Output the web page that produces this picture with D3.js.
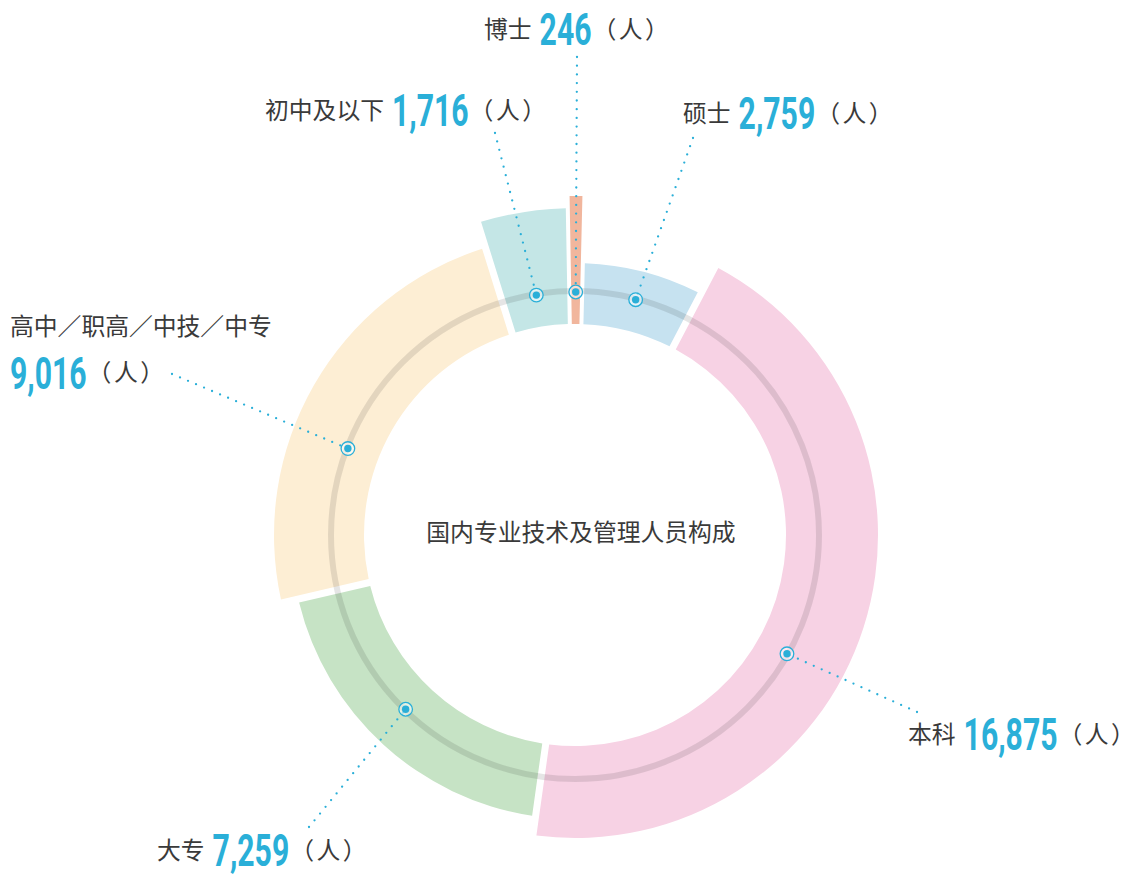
<!DOCTYPE html>
<html>
<head>
<meta charset="utf-8">
<script src="https://cdn.jsdelivr.net/npm/d3@7"></script>
<style>
  html, body { margin: 0; padding: 0; background: #fff; }
</style>
</head>
<body>
<div id="container"></div>
<script>
let w = 1134;
let h = 874;

// DATA
let categories = ["博士", "硕士", "本科", "大专", "高中／职高／中技／中专", "初中及以下"];
let counts = [246, 2759, 16875, 7259, 9016, 1716];
let unitParts = ["（", "人", "）"];
let centerTitle = "国内专业技术及管理人员构成";

// STYLE / LAYOUT
let sliceColors = ["#f1b69d", "#c6e2f0", "#f7d2e4", "#c6e3c5", "#fdeed4", "#c4e6e6"];
let sliceOuter = [339, 272, 303, 284, 301, 327];  // each ring piece sticks out differently
let gapWidth = [1, 7, 7, 7, 7, 7];               // white gap (px) each piece keeps
let markerNudge = [0, 0, 11.5, 1.7, -9, 0];       // degrees, marker offset from mid angle
let labelPos = [
  {x: 484, cy: 29, end: [577, 57]},
  {x: 683, cy: 113, end: [693, 138]},
  {x: 908, cy: 734, end: [917, 712]},
  {x: 157, cy: 850, end: [309, 827]},
  {x: 10, cy: 326, cy2: 372.5, end: [172, 374]},
  {x: 265, cy: 110, end: [495, 133]}
];

let cx = 575, cy = 535;
let innerR = 211;
let ringR = 244;
let deg = Math.PI / 180;
let blue = "#2aafd8";
let textGrey = "#3a3a3a";
let cjkFont = "'Noto Sans CJK SC', 'Noto Sans', sans-serif";
let numFont = "Roboto, 'DejaVu Sans', sans-serif";
let numSize = 45;
let numSquash = 0.67;
let cjkSize = 23.8;

let rows = categories.map(function(c, i){
  return {name: c, count: counts[i], index: i};
});

// SVG
let viz = d3.select("#container").append("svg")
    .attr("width", w)
    .attr("height", h)
    .style("display", "block")
    .style("background-color", "#ffffff");

let g = viz.append("g").attr("transform", "translate(" + cx + "," + cy + ")");

let pie = d3.pie()
    .sort(null)
    .value(function(d){ return d.count; })
    .startAngle(-1 * deg)
    .endAngle(359 * deg);

let arcs = pie(rows);
let padR = 250;
arcs.forEach(function(a, i){ a.padAngle = gapWidth[i] / padR; });

let arcMaker = d3.arc()
    .innerRadius(innerR)
    .outerRadius(function(d){ return sliceOuter[d.index]; })
    .padRadius(padR);

g.selectAll(".slice").data(arcs).enter()
  .append("path")
    .attr("class", "slice")
    .attr("d", arcMaker)
    .attr("fill", function(d, i){ return sliceColors[i]; });

// grey guide ring
g.append("circle")
    .attr("r", ringR)
    .attr("fill", "none")
    .attr("stroke", "#000")
    .attr("stroke-opacity", 0.1)
    .attr("stroke-width", 6);

// marker position on the ring
function markerPoint(d, i){
  let a = (d.startAngle + d.endAngle) / 2 + markerNudge[i] * deg;
  let r = ringR - 1;
  return [cx + r * Math.sin(a), cy - r * Math.cos(a)];
}

// dotted leader lines
viz.selectAll(".leader").data(arcs).enter()
  .append("line")
    .attr("class", "leader")
    .attr("x1", function(d, i){ return labelPos[i].end[0]; })
    .attr("y1", function(d, i){ return labelPos[i].end[1]; })
    .attr("x2", function(d, i){ return markerPoint(d, i)[0]; })
    .attr("y2", function(d, i){ return markerPoint(d, i)[1]; })
    .attr("stroke", blue)
    .attr("stroke-width", 2.3)
    .attr("stroke-linecap", "round")
    .attr("stroke-dasharray", "0 8.7");

// markers
let markers = viz.selectAll(".marker").data(arcs).enter()
  .append("g")
    .attr("class", "marker")
    .attr("transform", function(d, i){
      let p = markerPoint(d, i);
      return "translate(" + p[0] + "," + p[1] + ")";
    });
markers.append("circle")
    .attr("r", 6.8)
    .attr("fill", "#fff")
    .attr("fill-opacity", 0.55)
    .attr("stroke", blue)
    .attr("stroke-width", 1.3);
markers.append("circle")
    .attr("r", 3.7)
    .attr("fill", blue);

// centre title
viz.append("text")
    .attr("x", 581)
    .attr("y", 532.5 + 0.37 * cjkSize)
    .attr("text-anchor", "middle")
    .attr("font-family", cjkFont)
    .attr("font-size", cjkSize)
    .attr("fill", textGrey)
    .text(centerTitle);

// labels
rows.forEach(function(d, i){
  let lp = labelPos[i];
  let name = viz.append("text")
      .attr("x", lp.x)
      .attr("y", lp.cy + 0.37 * cjkSize)
      .attr("font-family", cjkFont)
      .attr("font-size", cjkSize)
      .attr("fill", textGrey)
      .text(d.name);

  let numX, numCy;
  if (lp.cy2 != undefined) {
    numX = lp.x;
    numCy = lp.cy2;
  } else {
    numX = lp.x + name.node().getComputedTextLength() + 8;
    numCy = lp.cy;
  }

  // condensed number: squeeze the glyphs with textLength
  let num = viz.append("text")
      .attr("x", numX)
      .attr("y", numCy + 16)
      .attr("font-family", numFont)
      .attr("font-weight", 700)
      .attr("font-size", numSize)
      .attr("fill", blue)
      .text(d3.format(",")(d.count));
  let numW = num.node().getComputedTextLength() * numSquash;
  num.attr("textLength", numW).attr("lengthAdjust", "spacingAndGlyphs");

  // （人） with a little air between the glyphs
  let unit = viz.append("text")
      .attr("x", numX + numW + 1)
      .attr("y", numCy + 0.37 * cjkSize)
      .attr("font-family", cjkFont)
      .attr("font-size", cjkSize)
      .attr("fill", textGrey);
  unitParts.forEach(function(part, k){
    unit.append("tspan")
        .attr("dx", k == 0 ? 0 : 2.5)
        .text(part);
  });
});
</script>
</body>
</html>
